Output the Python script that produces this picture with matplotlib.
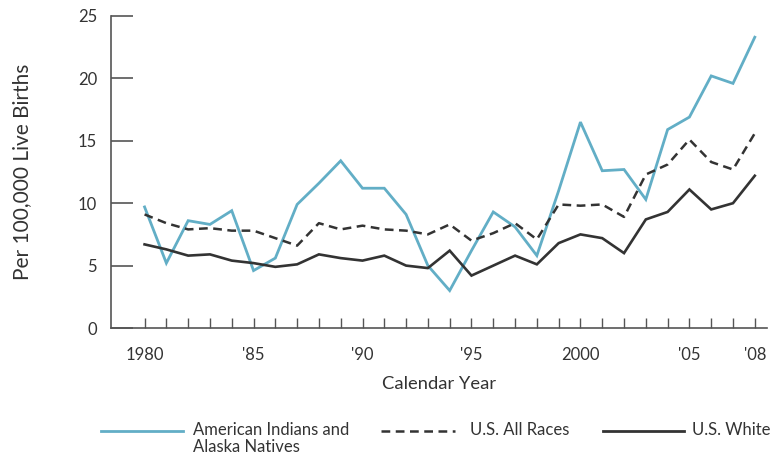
import matplotlib
matplotlib.use("Agg")
import matplotlib.pyplot as plt
from matplotlib.lines import Line2D

years = list(range(1980, 2009))
aian = [9.7, 5.2, 8.6, 8.3, 9.4, 4.6, 5.6, 9.9, 11.6, 13.4,
        11.2, 11.2, 9.1, 5.0, 3.0, 6.2, 9.3, 8.1, 5.8, 11.0,
        16.5, 12.6, 12.7, 10.3, 15.9, 16.9, 20.2, 19.6, 23.3]
all_races = [9.1, 8.4, 7.9, 8.0, 7.8, 7.8, 7.2, 6.6, 8.4, 7.9,
             8.2, 7.9, 7.8, 7.5, 8.3, 7.0, 7.6, 8.4, 7.1, 9.9,
             9.8, 9.9, 8.9, 12.3, 13.1, 15.1, 13.3, 12.7, 15.6]
white = [6.7, 6.3, 5.8, 5.9, 5.4, 5.2, 4.9, 5.1, 5.9, 5.6,
         5.4, 5.8, 5.0, 4.8, 6.2, 4.2, 5.0, 5.8, 5.1, 6.8,
         7.5, 7.2, 6.0, 8.7, 9.3, 11.1, 9.5, 10.0, 12.2]

label_years = [1980, 1985, 1990, 1995, 2000, 2005, 2008]
label_text = ["1980", "'85", "'90", "'95", "2000", "'05", "'08"]
series_names = ["American Indians and\nAlaska Natives", "U.S. All Races", "U.S. White"]

blue = "#62aec6"
dark = "#333333"
grey = "#555555"

plt.rcParams["font.family"] = ["Lato", "DejaVu Sans"]

fig = plt.figure(figsize=(7.8, 4.61), dpi=100)
ax = fig.add_axes([111 / 780, 133 / 461, 656 / 780, 312 / 461])

ax.plot(years, aian, color=blue, lw=2.0, solid_joinstyle="miter")
ax.plot(years, all_races, color=dark, lw=1.8, dashes=(3.5, 2.2))
ax.plot(years, white, color=dark, lw=1.9, solid_joinstyle="miter")

ax.set_xlim(1978.46, 2008.56)
ax.set_ylim(0, 25)
for s in ["top", "right"]:
    ax.spines[s].set_visible(False)
for s in ["left", "bottom"]:
    ax.spines[s].set_color(grey)
    ax.spines[s].set_linewidth(1.2)

ax.set_xticks(years, minor=True)
ax.set_xticks(label_years)
ax.set_xticklabels(label_text)
ax.tick_params(axis="x", which="both", direction="in", length=7, width=1.0,
               color=grey, pad=14, labelsize=12, labelcolor="#333333")
ax.set_yticks([0, 5, 10, 15, 20, 25])
ax.tick_params(axis="y", direction="in", length=16, width=1.2, color=grey,
               pad=10, labelsize=12, labelcolor="#333333")

ax.set_xlabel("Calendar Year", fontsize=13.2, color="#333333")
ax.xaxis.set_label_coords(0.5, -0.155)
ax.set_ylabel("Per 100,000 Live Births", fontsize=15, color="#333333")
ax.yaxis.set_label_coords(-0.12, 0.5)

# legend along the bottom
ly = 1 - 431 / 461
keys = [(101, 183, dict(color=blue, lw=2.0)),
        (381, 455, dict(color=dark, lw=1.8, dashes=(3.5, 2.2))),
        (603, 684, dict(color=dark, lw=2.0))]
text_x = [193, 470, 692]
for (x0, x1, st), tx, name in zip(keys, text_x, series_names):
    fig.add_artist(Line2D([x0 / 780, x1 / 780], [ly, ly], transform=fig.transFigure, **st))
    fig.text(tx / 780, ly + 0.02, name, fontsize=12, color="#333333",
             ha="left", va="top", linespacing=1.1)

fig.savefig("out.png", dpi=100)
